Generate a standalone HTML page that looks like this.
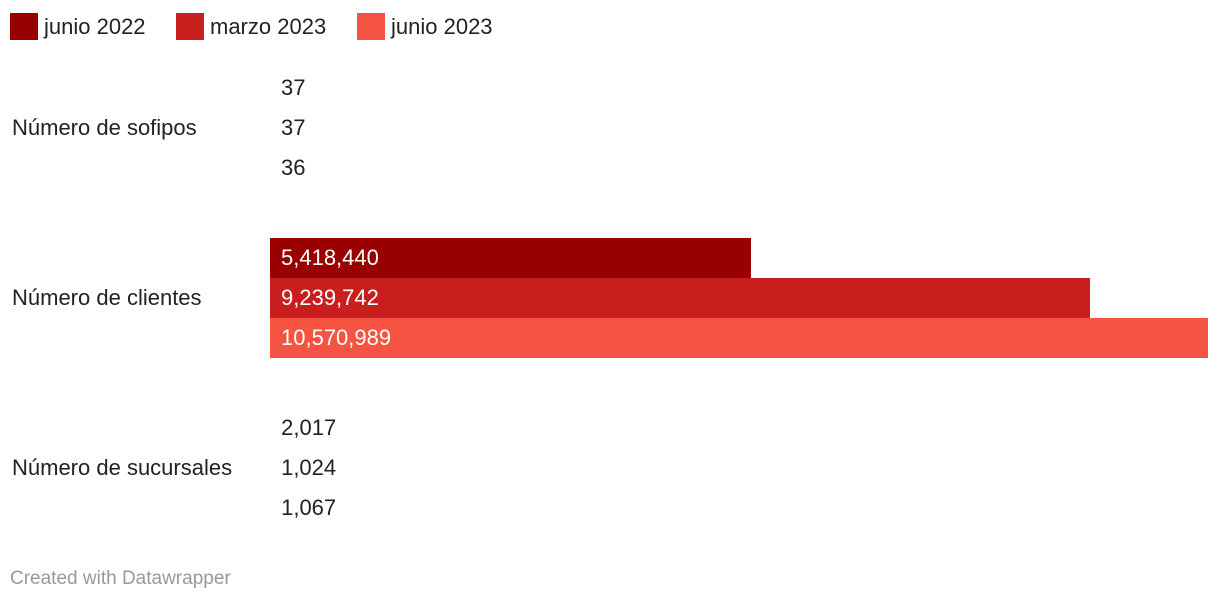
<!DOCTYPE html>
<html><head><meta charset="utf-8"><style>
body{margin:0;width:1220px;height:606px;background:#fff;font-family:"Liberation Sans",sans-serif;color:#222;position:relative;overflow:hidden}
.lg{position:absolute;top:13px;display:flex;align-items:center;font-size:22px}
.sw{width:28px;height:27px;margin-right:6px}
.cat{position:absolute;left:12px;font-size:22px;line-height:40px}
.bar{position:absolute;height:40px}
.val{position:absolute;font-size:22px;line-height:40px;white-space:nowrap}
.foot{position:absolute;left:10px;top:568px;font-size:19px;color:#999}
</style></head><body>
<div id="legend"></div>
<div id="chart"></div>
<div class="foot">Created with Datawrapper</div>
<script>
const series=["junio 2022","marzo 2023","junio 2023"];
const colors=["#990000","#c81e1e","#f55443"];
const categories=["Número de sofipos","Número de clientes","Número de sucursales"];
const vSofipos=[37,37,36];
const vClientes=[5418440,9239742,10570989];
const vSucursales=[2017,1024,1067];
const values=[vSofipos,vClientes,vSucursales];
const x0=270,x1=1208,maxV=Math.max(...vClientes);
const xs=v=>(v/maxV)*(x1-x0);
const fmt=v=>v.toLocaleString("en-US");
const lg=document.getElementById("legend");
const lx=[10,176,357];
series.forEach((s,i)=>{
 const d=document.createElement("div");d.className="lg";d.style.left=lx[i]+"px";
 
 
 d.innerHTML='<div class="sw" style="background:'+colors[i]+'"></div><span>'+s+'</span>';
 lg.appendChild(d);
});
const ch=document.getElementById("chart");
categories.forEach((c,ci)=>{
 const top=68+ci*170;
 const l=document.createElement("div");l.className="cat";l.style.top=(top+40)+"px";l.textContent=c;
 
 
 ch.appendChild(l);
 values[ci].forEach((v,si)=>{
  const y=top+si*40;
  const w=xs(v);
  const b=document.createElement("div");b.className="bar";
  b.style.left=x0+"px";b.style.top=y+"px";b.style.background=colors[si];
  b.style.width=(w<0.5?0:Math.max(w,2))+"px";
  
  
  ch.appendChild(b);
  const t=document.createElement("div");t.className="val";t.style.top=y+"px";t.textContent=fmt(v);
  
  
  if(w>150){t.style.left=(x0+11)+"px";t.style.color="#fff";}
  else{t.style.left=(x0+11+Math.max(w,0))+"px";}
  ch.appendChild(t);
 });
});
</script>
</body></html>
